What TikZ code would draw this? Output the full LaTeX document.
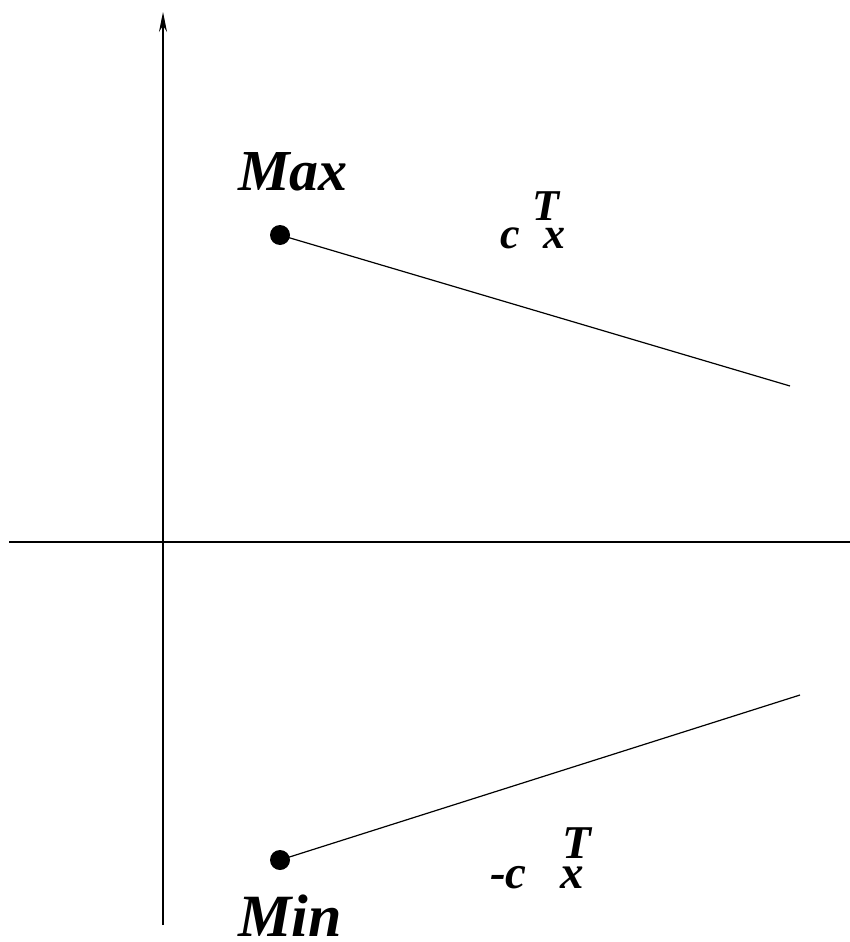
\documentclass[tikz,border=0pt]{standalone}
\usepackage{fontspec}
\setmainfont{Liberation Serif}
\usetikzlibrary{arrows.meta}
\begin{document}
\begin{tikzpicture}[x=1pt,y=-1pt,
  ln/.style={line width=1.2pt},
  pt/.style={circle,fill=black,inner sep=0pt,minimum size=20pt},
  big/.style={inner sep=0pt,font=\fontsize{58}{60}\selectfont\bfseries\itshape},
  sm/.style={inner sep=0pt,font=\fontsize{44}{46}\selectfont\bfseries\itshape},
  smb/.style={inner sep=0pt,font=\fontsize{47}{49}\selectfont\bfseries\itshape}]
\useasboundingbox (0,0) rectangle (850,942);
% axes
\coordinate (yb) at (163,925);
\coordinate (yt) at (163,12);
\coordinate (xl) at (9,542);
\coordinate (xr) at (850,542);
\draw[ln,-{Stealth[length=20pt,width=8pt]}] (yb) -- (yt);
\draw[ln] (xl) -- (xr);
% points
\node[pt] (max) at (280,235) {};
\node[pt] (min) at (280,860) {};
\coordinate (e1) at (790,386);
\coordinate (e2) at (800,695);
\draw[ln] (max.center) -- (e1);
\draw[ln] (min.center) -- (e2);
% labels
\node[big,anchor=base west] (lmax) at (238,190) {Max};
\node[big,anchor=base west,font=\fontsize{60}{62}\selectfont\bfseries\itshape] (lmin) at (238,936) {Min};
\node[sm,anchor=base west] (c1) at (500,248) {c};
\node[sm,anchor=base west] (t1) at (532,220) {T};
\node[sm,anchor=base west] (x1) at (543,248) {x};
\node[smb,anchor=base west] (c2) at (490,888) {-c};
\node[smb,anchor=base west] (t2) at (562,858) {T};
\node[smb,anchor=base west] (x2) at (560,888) {x};
\end{tikzpicture}
\end{document}
